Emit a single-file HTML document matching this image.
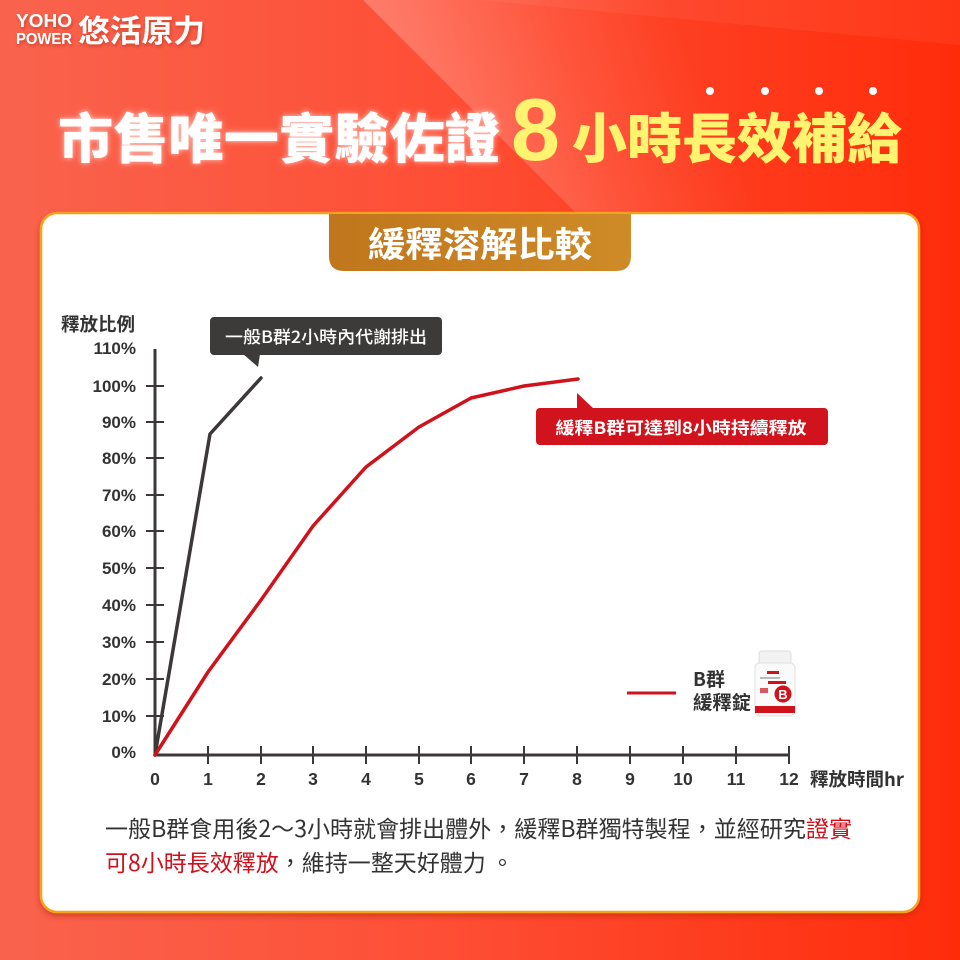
<!DOCTYPE html>
<html><head><meta charset="utf-8">
<style>
html,body{margin:0;padding:0;width:960px;height:960px;overflow:hidden;background:#fb4a30;}
svg{display:block;}
text{font-family:"Liberation Sans","Noto Sans CJK TC",sans-serif;}
.cjk{font-family:"Noto Sans CJK TC","Liberation Sans",sans-serif;}
</style></head>
<body>
<svg width="960" height="960" viewBox="0 0 960 960" xmlns="http://www.w3.org/2000/svg" overflow="hidden">
<defs>
<linearGradient id="bg" x1="0" y1="0" x2="960" y2="0" gradientUnits="userSpaceOnUse">
<stop offset="0" stop-color="#f9634d"/>
<stop offset="0.45" stop-color="#fe4f36"/>
<stop offset="1" stop-color="#ff2c0a"/>
</linearGradient>
<linearGradient id="band" x1="363" y1="0" x2="620" y2="-110" gradientUnits="userSpaceOnUse">
<stop offset="0" stop-color="#ffffff" stop-opacity="0.25"/>
<stop offset="0.6" stop-color="#ffffff" stop-opacity="0.08"/>
<stop offset="1" stop-color="#ffffff" stop-opacity="0"/>
</linearGradient>
<linearGradient id="tab" x1="0" y1="0" x2="1" y2="0">
<stop offset="0" stop-color="#c0761c"/>
<stop offset="1" stop-color="#cf8b28"/>
</linearGradient>
<filter id="glow" x="-10%" y="-40%" width="120%" height="180%">
<feGaussianBlur in="SourceGraphic" stdDeviation="3" result="b"/>
<feColorMatrix in="b" type="matrix" values="1 0 0 0 0  0 1 0 0 0  0 0 1 0 0  0 0 0 0.7 0" result="c"/>
<feMerge><feMergeNode in="c"/><feMergeNode in="SourceGraphic"/></feMerge>
</filter>
<filter id="sh" x="-5%" y="-5%" width="110%" height="108%">
<feDropShadow dx="0" dy="3" stdDeviation="3" flood-color="#a02800" flood-opacity="0.45"/>
</filter>
<filter id="tsh" x="-10%" y="-20%" width="130%" height="150%">
<feDropShadow dx="1" dy="2" stdDeviation="1.5" flood-color="#7a1a00" flood-opacity="0.35"/>
</filter>
</defs>

<!-- background -->
<rect x="0" y="0" width="960" height="960" fill="url(#bg)"/>
<polygon points="363,0 960,0 960,597" fill="url(#band)"/>
<polygon points="480,0 960,0 960,45" fill="#ffffff" fill-opacity="0.05"/>

<!-- logo -->
<g filter="url(#tsh)">
<text x="16" y="27" font-size="18" font-weight="bold" fill="#fff" textLength="56" lengthAdjust="spacingAndGlyphs">YOHO</text>
<text x="16" y="44" font-size="16" font-weight="bold" fill="#fff" textLength="56" lengthAdjust="spacingAndGlyphs">POWER</text>
<text class="cjk" x="78" y="42" font-size="31" font-weight="bold" fill="#fff" textLength="127" lengthAdjust="spacingAndGlyphs">悠活原力</text>
</g>

<!-- title -->
<text class="cjk" x="58" y="158" font-size="54" font-weight="900" fill="#fff" filter="url(#glow)" textLength="442" lengthAdjust="spacingAndGlyphs">市售唯一實驗佐證</text>
<text x="511" y="160" font-size="88" font-weight="bold" fill="#fff36f">8</text>
<text class="cjk" x="572" y="158" font-size="54" font-weight="900" fill="#fff36f" textLength="330" lengthAdjust="spacingAndGlyphs">小時長效補給</text>
<g fill="#fff">
<circle cx="710" cy="91" r="4"/><circle cx="765" cy="91" r="4"/><circle cx="819" cy="91" r="4"/><circle cx="873" cy="91" r="4"/>
</g>

<!-- card -->
<rect x="41" y="213" width="878" height="699" rx="16" ry="16" fill="#ffffff" stroke="#f7a21e" stroke-width="2.5" filter="url(#sh)"/>

<!-- tab -->
<path d="M329,214 H631 V256 Q631,271 616,271 H344 Q329,271 329,256 Z" fill="url(#tab)"/>
<text class="cjk" x="480" y="257" font-size="35" font-weight="bold" fill="#fff" text-anchor="middle" textLength="224" lengthAdjust="spacingAndGlyphs">緩釋溶解比較</text>

<!-- y axis label -->
<text class="cjk" x="61" y="331" font-size="18.5" font-weight="bold" fill="#333" textLength="74" lengthAdjust="spacingAndGlyphs">釋放比例</text>

<!-- axes -->
<g stroke="#3c3838" stroke-width="3" fill="none">
<line x1="155" y1="349" x2="155" y2="756"/>
<line x1="154" y1="755" x2="790" y2="755"/>
</g>
<g stroke="#3c3838" stroke-width="2">
<line x1="146" y1="716" x2="164" y2="716"/>
<line x1="146" y1="679" x2="164" y2="679"/>
<line x1="146" y1="642" x2="164" y2="642"/>
<line x1="146" y1="605" x2="164" y2="605"/>
<line x1="146" y1="568" x2="164" y2="568"/>
<line x1="146" y1="531" x2="164" y2="531"/>
<line x1="146" y1="495" x2="164" y2="495"/>
<line x1="146" y1="458" x2="164" y2="458"/>
<line x1="146" y1="422" x2="164" y2="422"/>
<line x1="146" y1="386" x2="164" y2="386"/>
<line x1="208" y1="746" x2="208" y2="764"/>
<line x1="261" y1="746" x2="261" y2="764"/>
<line x1="313" y1="746" x2="313" y2="764"/>
<line x1="366" y1="746" x2="366" y2="764"/>
<line x1="419" y1="746" x2="419" y2="764"/>
<line x1="471" y1="746" x2="471" y2="764"/>
<line x1="524" y1="746" x2="524" y2="764"/>
<line x1="577" y1="746" x2="577" y2="764"/>
<line x1="630" y1="746" x2="630" y2="764"/>
<line x1="683" y1="746" x2="683" y2="764"/>
<line x1="736" y1="746" x2="736" y2="764"/>
<line x1="789" y1="746" x2="789" y2="764"/>
</g>

<!-- y labels -->
<g font-size="17" font-weight="bold" fill="#333" text-anchor="end">
<text x="136" y="354">110%</text>
<text x="136" y="392">100%</text>
<text x="136" y="428">90%</text>
<text x="136" y="464">80%</text>
<text x="136" y="501">70%</text>
<text x="136" y="537">60%</text>
<text x="136" y="574">50%</text>
<text x="136" y="611">40%</text>
<text x="136" y="648">30%</text>
<text x="136" y="685">20%</text>
<text x="136" y="722">10%</text>
<text x="136" y="758">0%</text>
</g>

<!-- x labels -->
<g font-size="17.5" font-weight="bold" fill="#333" text-anchor="middle">
<text x="155" y="785">0</text>
<text x="208" y="785">1</text>
<text x="261" y="785">2</text>
<text x="313" y="785">3</text>
<text x="366" y="785">4</text>
<text x="419" y="785">5</text>
<text x="471" y="785">6</text>
<text x="524" y="785">7</text>
<text x="577" y="785">8</text>
<text x="630" y="785">9</text>
<text x="683" y="785">10</text>
<text x="736" y="785">11</text>
<text x="789" y="785">12</text>
</g>
<text class="cjk" x="810" y="786" font-size="18.5" font-weight="bold" fill="#333" textLength="94" lengthAdjust="spacingAndGlyphs">釋放時間hr</text>

<!-- series -->
<polyline points="155,755 210,434 261,378" fill="none" stroke="#3c3838" stroke-width="3.5" stroke-linejoin="round" stroke-linecap="round"/>
<polyline points="155,755 208,672 261,600 313,526 366,467 419,427 471,398 524,386 578,379" fill="none" stroke="#d0121b" stroke-width="3.5" stroke-linejoin="round" stroke-linecap="round"/>

<!-- gray callout -->
<rect x="210" y="317" width="232" height="38" rx="4" fill="#3d3a3a"/>
<polygon points="243,354 260,354 258,367" fill="#3d3a3a"/>
<text class="cjk" x="326" y="343" font-size="17" font-weight="500" fill="#fff" text-anchor="middle" textLength="202" lengthAdjust="spacingAndGlyphs">一般B群2小時內代謝排出</text>

<!-- red callout -->
<rect x="536" y="408" width="292" height="37" rx="4" fill="#d0131c"/>
<polygon points="577,393 577,409 594,409" fill="#d0131c"/>
<text class="cjk" x="681" y="434" font-size="17" font-weight="bold" fill="#fff" text-anchor="middle" textLength="251" lengthAdjust="spacingAndGlyphs">緩釋B群可達到8小時持續釋放</text>

<!-- legend -->
<line x1="627" y1="693" x2="676" y2="693" stroke="#d0121b" stroke-width="3"/>
<text class="cjk" x="693" y="686" font-size="19" font-weight="bold" fill="#333">B群</text>
<text class="cjk" x="693" y="709" font-size="19" font-weight="bold" fill="#333" textLength="58" lengthAdjust="spacingAndGlyphs">緩釋錠</text>

<!-- bottle -->
<g>
<rect x="759" y="651" width="32" height="13" rx="3" fill="#f2f2f2" stroke="#dcdcdc" stroke-width="1"/>
<rect x="755" y="663" width="40" height="53" rx="5" fill="#fafafa" stroke="#e0e0e0" stroke-width="1"/>
<rect x="767" y="671" width="12" height="3" fill="#d0121b"/>
<rect x="760" y="677" width="20" height="2" fill="#bbb"/>
<rect x="768" y="681" width="18" height="3" fill="#d0121b"/>
<rect x="760" y="688" width="8" height="5" fill="#d0121b" opacity="0.7"/>
<circle cx="783" cy="694" r="8.5" fill="#d0121b"/>
<text x="783" y="699" font-size="13" font-weight="bold" fill="#fff" text-anchor="middle">B</text>
<rect x="755" y="706" width="40" height="7" fill="#d0121b"/>
</g>

<!-- bottom text -->
<text class="cjk" x="105" y="837" font-size="23" fill="#333" textLength="747" lengthAdjust="spacingAndGlyphs">一般B群食用後2～3小時就會排出體外，緩釋B群獨特製程，並經研究<tspan fill="#d0111b">證實</tspan></text>
<text class="cjk" x="105" y="871" font-size="23" fill="#333"><tspan fill="#d0111b">可8小時長效釋放</tspan>，維持一整天好體力 。</text>
</svg>
</body></html>
